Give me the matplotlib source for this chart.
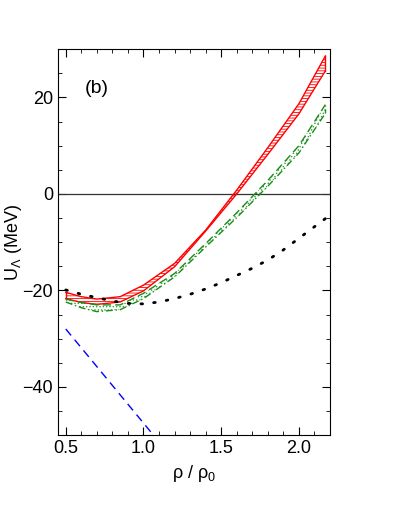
import matplotlib
matplotlib.use("Agg")
import matplotlib.pyplot as plt
import numpy as np

# density points rho/rho0
rho = [0.5, 0.6, 0.7, 0.85, 1.0, 1.2, 1.4, 1.6, 1.8, 2.0, 2.17]

# red band (upper / lower)
red_hi = [-20.4, -21.3, -21.8, -21.3, -18.9, -14.4, -7.5, 0.8, 9.6, 18.7, 28.6]
red_lo = [-21.7, -22.5, -22.9, -22.4, -20.1, -15.1, -7.7, 0.0, 8.2, 16.6, 25.5]

# green band
grn_hi = [-21.8, -22.5, -23.0, -23.0, -20.6, -16.5, -10.3, -3.9, 2.8, 10.0, 18.5]
grn_lo = [-22.4, -23.6, -24.4, -24.0, -21.7, -17.2, -11.0, -4.9, 1.6, 8.5, 16.7]

# black dotted
rho_dot = [0.5, 0.6, 0.7, 0.8, 0.9, 1.0, 1.1, 1.2, 1.3, 1.4, 1.5, 1.6, 1.7, 1.8, 1.9, 2.0, 2.1, 2.2]
u_dot = [-19.9, -20.8, -21.5, -22.2, -22.7, -22.8, -22.4, -21.7, -20.8, -19.7, -18.4, -16.9, -15.4, -13.7, -11.6, -9.2, -6.8, -4.4]

# blue dashed
rho_blue = [0.5, 1.064]
u_blue = [-28.0, -50.0]

plt.rcParams['font.family'] = ['Liberation Sans', 'DejaVu Sans']
plt.rcParams['mathtext.fontset'] = 'custom'
plt.rcParams['mathtext.rm'] = 'Liberation Sans'
plt.rcParams['hatch.linewidth'] = 0.6
fig = plt.figure(figsize=(4.0, 5.18), dpi=100)
ax = fig.add_axes([0.145, 0.160, 0.68, 0.745])

ax.axhline(0, color='#333333', lw=0.9)

# red hatched band, closed at both ends
ax.fill_between(rho, red_lo, red_hi, facecolor='none', edgecolor='red', hatch='------', lw=0)
ax.plot(rho, red_hi, color='red', lw=1.0)
ax.plot(rho, red_lo, color='red', lw=1.0)
ax.plot([rho[0], rho[0]], [red_lo[0], red_hi[0]], color='red', lw=1.0)
ax.plot([rho[-1], rho[-1]], [red_lo[-1], red_hi[-1]], color='red', lw=1.0)

# green dotted band
ax.fill_between(rho, grn_lo, grn_hi, facecolor='none', edgecolor='#2ca02c', hatch='.....', lw=0)
ax.plot(rho, grn_hi, color='#1a8c1a', lw=1.0, ls=(0, (6, 3)))
ax.plot(rho, grn_lo, color='#1a8c1a', lw=1.0, ls=(0, (5, 2, 1, 2)))
ax.plot([rho[-1], rho[-1]], [grn_lo[-1], grn_hi[-1]], color='#1a8c1a', lw=1.0, ls=(0, (3, 2)))

ax.plot(rho_dot, u_dot, color='black', lw=2.0, ls=(0, (0.6, 4.0)), dash_capstyle='round')
ax.plot(rho_blue, u_blue, color='blue', lw=1.0, ls=(0, (6, 4)))

ax.set_xlim(0.45, 2.2)
ax.set_ylim(-50, 30)
ax.set_xticks([0.5, 1.0, 1.5, 2.0])
ax.set_xticklabels(['0.5', '1.0', '1.5', '2.0'])
ax.set_yticks([-40, -20, 0, 20])
ax.set_xticks(np.arange(0.5, 2.2, 0.1), minor=True)
ax.set_yticks(np.arange(-45, 30, 5), minor=True)
ax.tick_params(which='both', direction='in', top=True, right=True, labelsize=13)
ax.tick_params(which='major', length=6)
ax.tick_params(which='minor', length=3)

ax.set_xlabel('ρ / ρ$_\\mathrm{0}$', fontsize=13)
ax.set_ylabel('U$_\\Lambda$ (MeV)', fontsize=13)
ax.yaxis.set_label_coords(-0.125, 0.5)
ax.text(0.1, 0.92, '(b)', transform=ax.transAxes, fontsize=14, va='top')

fig.savefig('out.png', dpi=100)
